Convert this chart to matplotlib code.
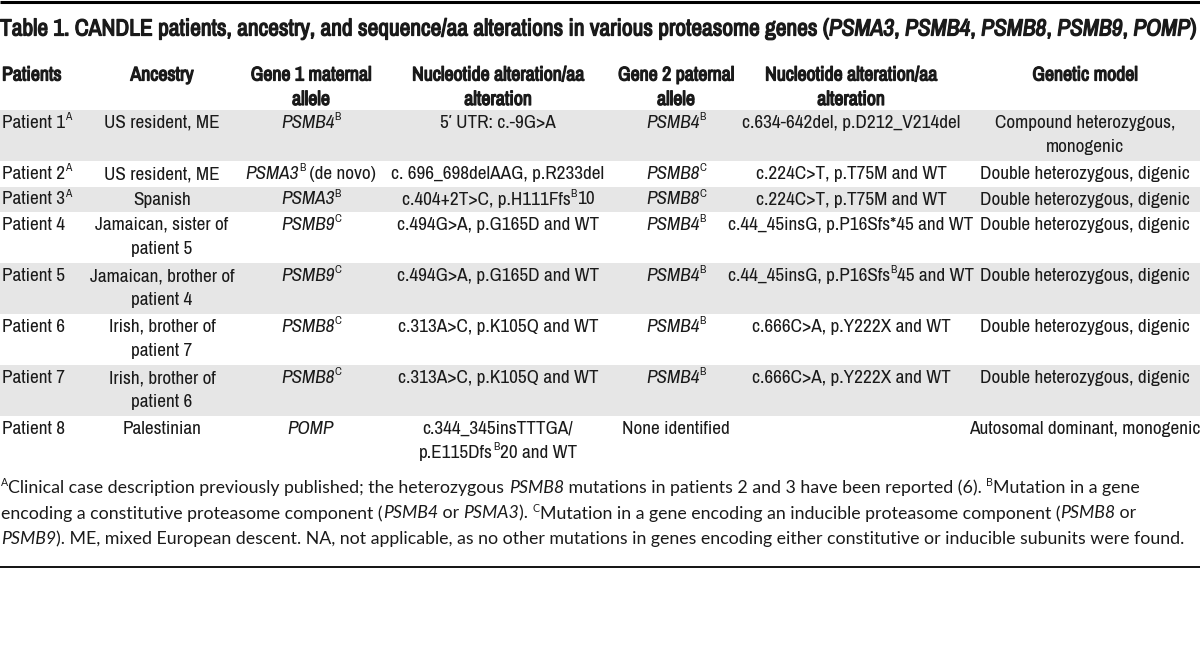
import re
import matplotlib
matplotlib.use("Agg")
import matplotlib.pyplot as plt
import matplotlib.patheffects as pe
from matplotlib import font_manager as fm

# ---- table content ----
title = ("Table 1. CANDLE patients, ancestry, and sequence/aa alterations in various proteasome genes "
         "({bi:PSMA3}, {bi:PSMB4}, {bi:PSMB8}, {bi:PSMB9}, {bi:POMP})")

headers = ["Patients", "Ancestry", "Gene 1 maternal\nallele", "Nucleotide alteration/aa\nalteration",
           "Gene 2 paternal\nallele", "Nucleotide alteration/aa\nalteration", "Genetic model"]

patients = ["Patient 1{s:A}", "Patient 2{s:A}", "Patient 3{s:A}", "Patient 4", "Patient 5",
            "Patient 6", "Patient 7", "Patient 8"]
ancestry = ["US resident, ME", "US resident, ME", "Spanish", "Jamaican, sister of\npatient 5",
            "Jamaican, brother of\npatient 4", "Irish, brother of\npatient 7", "Irish, brother of\npatient 6",
            "Palestinian"]
gene1 = ["{i:PSMB4}{s:B}", "{i:PSMA3}{s:B} (de novo)", "{i:PSMA3}{s:B}", "{i:PSMB9}{s:C}", "{i:PSMB9}{s:C}",
         "{i:PSMB8}{s:C}", "{i:PSMB8}{s:C}", "{i:POMP}"]
nuc1 = ["5\u2032 UTR: c.-9G>A", "c. 696_698delAAG, p.R233del", "c.404+2T>C, p.H111Ffs{s:B}10",
        "c.494G>A, p.G165D and WT", "c.494G>A, p.G165D and WT", "c.313A>C, p.K105Q and WT",
        "c.313A>C, p.K105Q and WT", "c.344_345insTTTGA/\np.E115Dfs{s:B}20 and WT"]
gene2 = ["{i:PSMB4}{s:B}", "{i:PSMB8}{s:C}", "{i:PSMB8}{s:C}", "{i:PSMB4}{s:B}", "{i:PSMB4}{s:B}",
         "{i:PSMB4}{s:B}", "{i:PSMB4}{s:B}", "None identified"]
nuc2 = ["c.634-642del, p.D212_V214del", "c.224C>T, p.T75M and WT", "c.224C>T, p.T75M and WT",
        "c.44_45insG, p.P16Sfs*45 and WT", "c.44_45insG, p.P16Sfs{s:B}45 and WT",
        "c.666C>A, p.Y222X and WT", "c.666C>A, p.Y222X and WT", ""]
model = ["Compound heterozygous,\nmonogenic", "Double heterozygous, digenic", "Double heterozygous, digenic",
         "Double heterozygous, digenic", "Double heterozygous, digenic", "Double heterozygous, digenic",
         "Double heterozygous, digenic", "Autosomal dominant, monogenic"]

footnotes = [
    "{s:A}Clinical case description previously published; the heterozygous {i:PSMB8} mutations in patients 2 "
    "and 3 have been reported (6). {s:B}Mutation in a gene",
    "encoding a constitutive proteasome component ({i:PSMB4} or {i:PSMA3}). {s:C}Mutation in a gene encoding "
    "an inducible proteasome component ({i:PSMB8} or",
    "{i:PSMB9}). ME, mixed European descent. NA, not applicable, as no other mutations in genes encoding "
    "either constitutive or inducible subunits were found.",
]

# ---- layout (pixels) ----
col_x = [2, 162, 311, 498, 676, 851, 1085]
col_ha = ["left"] + ["center"] * 6
ink = "#1a1a1a"

# pick the narrowest font that is around
ttf = fm.fontManager.ttflist
names = {f.name for f in ttf}
narrow = dict(family=["Roboto", "DejaVu Sans"], stretch="normal")
cond_names = sorted(n for n in names if "Narrow" in n or "Condensed" in n)
cond_stretch = [f.name for f in ttf if str(f.stretch) in ("condensed", "semi-condensed", "extra-condensed")]
if "Liberation Sans Narrow" in names:
    narrow = dict(family=["Liberation Sans Narrow", "DejaVu Sans"], stretch="normal")
elif cond_names:
    narrow = dict(family=[cond_names[0], "DejaVu Sans"], stretch="normal")
elif cond_stretch:
    narrow = dict(family=[cond_stretch[0], "DejaVu Sans"], stretch="condensed")
foot = dict(family=["Lato", "DejaVu Sans"], stretch="normal")


def weight_num(w):
    return w if isinstance(w, int) else fm.weight_dict.get(w, 400)


# no bold face for the narrow family -> thicken the regular one with a stroke
narrow_bold = any(f.name == narrow["family"][0] and weight_num(f.weight) >= 600 for f in ttf)
fake_bold = [pe.withStroke(linewidth=0.9, foreground=ink)]

fig = plt.figure(figsize=(12, 6.53), dpi=100)
ax = fig.add_axes([0, 0, 1, 1])
ax.set_xlim(0, 1200)
ax.set_ylim(653, 0)
ax.axis("off")
renderer = fig.canvas.get_renderer()


def parse(s):
    parts, pos = [], 0
    for m in re.finditer(r"\{(i|s|bi):([^}]*)\}", s):
        if m.start() > pos:
            parts.append(("n", s[pos:m.start()]))
        parts.append((m.group(1), m.group(2)))
        pos = m.end()
    if pos < len(s):
        parts.append(("n", s[pos:]))
    return parts


def rich(x, y, s, ha="left", size=12, font=narrow, bold=False, draw=True):
    items = []
    for kind, txt in parse(s):
        style = "italic" if kind in ("i", "bi") else "normal"
        is_bold = bold or kind == "bi"
        weight = "bold" if (is_bold and (narrow_bold or font is not narrow)) else "normal"
        fs = size * 0.6 if kind == "s" else size
        dy = -size * 0.42 if kind == "s" else 0
        t = ax.text(0, y + dy, txt, fontsize=fs, family=font["family"], fontstretch=font["stretch"],
                    style=style, weight=weight, va="center", ha="left", color=ink)
        if is_bold and weight == "normal":
            t.set_path_effects(fake_bold)
        w = t.get_window_extent(renderer).width
        items.append((t, w))
    total = sum(w for _, w in items)
    if not draw:
        for t, _ in items:
            t.remove()
        return total
    x0 = x - total / 2 if ha == "center" else x
    for t, w in items:
        t.set_x(x0)
        x0 += w
    return total


def fit(s, target, font, bold=False):
    return 12 * target / rich(0, 0, s, size=12, font=font, bold=bold, draw=False)


title_fs = fit(title, 1195, narrow, bold=True)
head_fs = fit("Nucleotide alteration/aa", 172, narrow, bold=True)
body_fs = fit("Double heterozygous, digenic", 210, narrow)
foot_fs = fit(footnotes[2], 1180, foot)

# rules
ax.plot([0, 1200], [1.5, 1.5], color="black", lw=2.2, solid_capstyle="butt")
ax.plot([0, 1200], [567, 567], color="black", lw=1.3, solid_capstyle="butt")

# title
rich(0, 29, title, size=title_fs, bold=True)

# header
for cx, ha, h in zip(col_x, col_ha, headers):
    for k, ln in enumerate(h.split("\n")):
        rich(cx, 75 + k * 24.5, ln, ha=ha, size=head_fs, bold=True)

# body rows
columns = [patients, ancestry, gene1, nuc1, gene2, nuc2, model]
top = 110
row_unit = 25.5
for r in range(len(patients)):
    cells = [c[r] for c in columns]
    nlines = max(len(c.split("\n")) for c in cells)
    h = row_unit * nlines
    if r % 2 == 0:
        ax.add_patch(plt.Rectangle((0, top), 1200, h, color="#e6e6e6", lw=0, zorder=0))
    for cx, ha, cell in zip(col_x, col_ha, cells):
        for k, ln in enumerate(cell.split("\n")):
            rich(cx, top + 13 + k * 24, ln, ha=ha, size=body_fs)
    top += h

# footnotes
for k, ln in enumerate(footnotes):
    rich(1, 488 + k * 25.5, ln, size=foot_fs, font=foot)

fig.savefig("out.png", dpi=100)
